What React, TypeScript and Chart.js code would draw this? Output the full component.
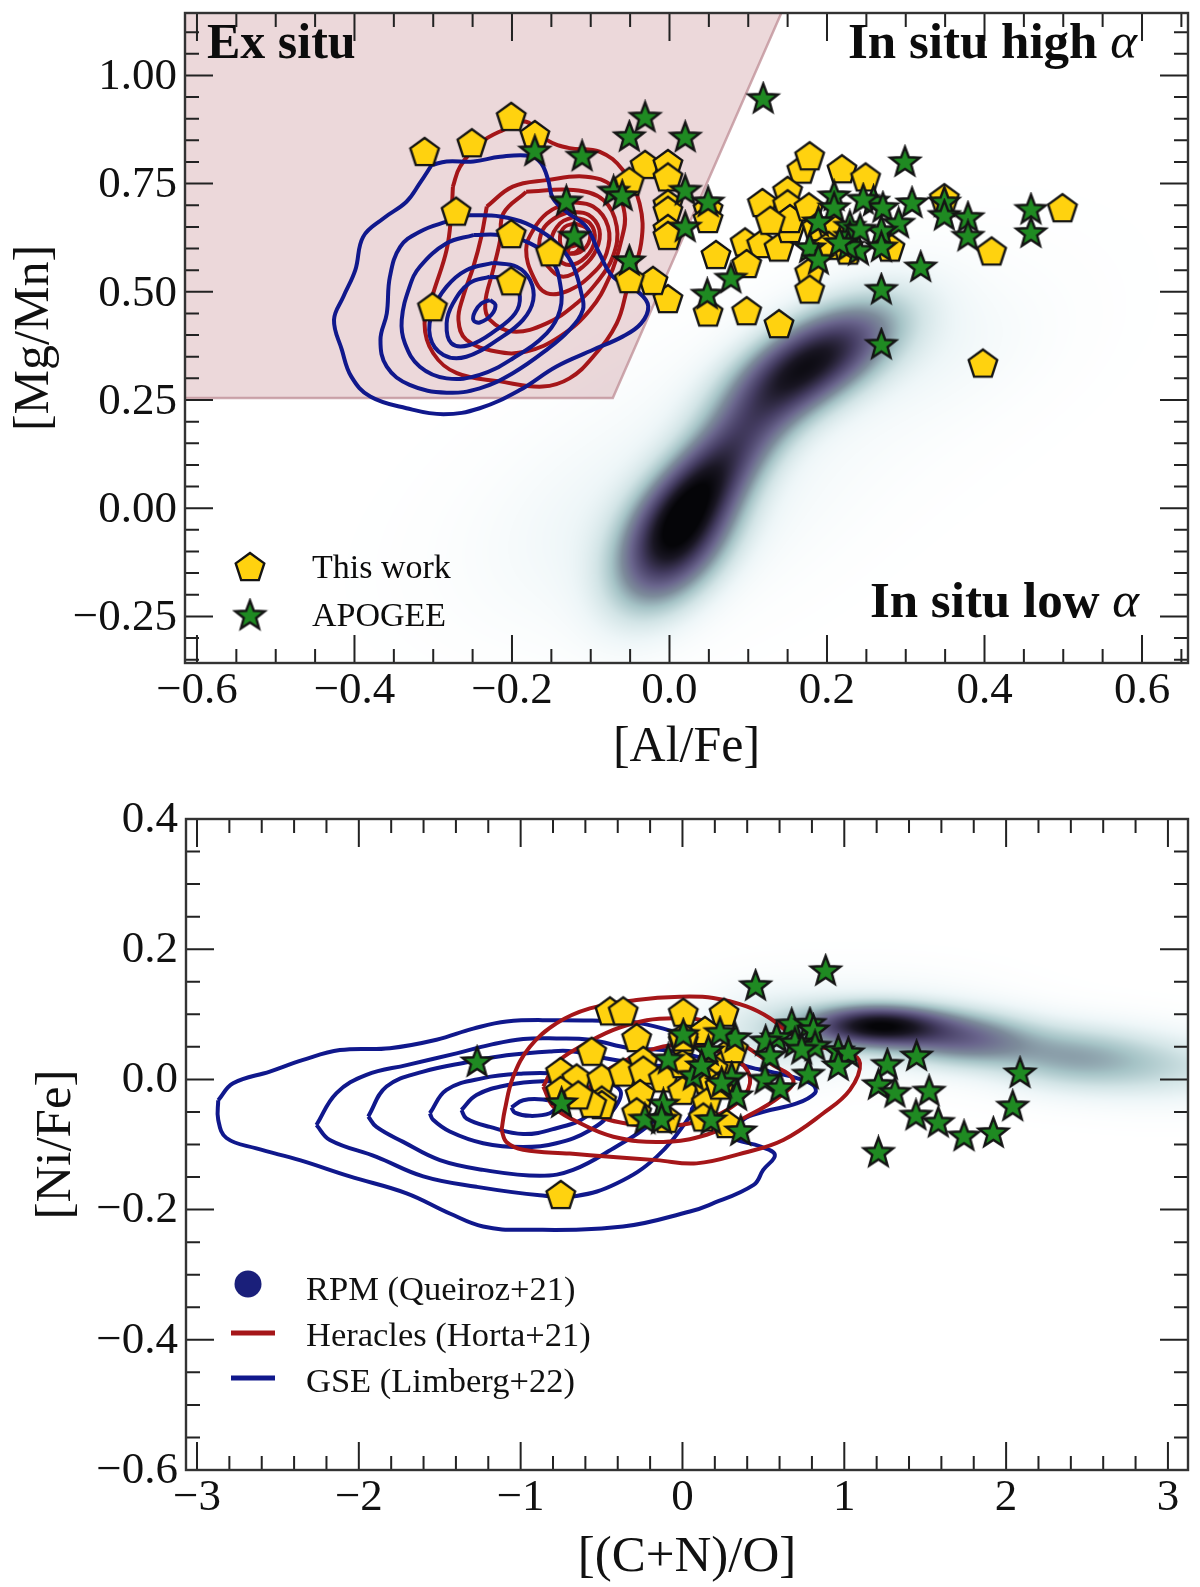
import React, { useEffect, useRef } from "react";
import { Chart, registerables } from "chart.js";

Chart.register(...registerables);

type P = [number, number];

// ---------- axis ranges and ticks ----------
const topXRange = [-0.6152, 0.6584];
const topYRange = [-0.3577, 1.1442];
const topXMajor = [-0.6, -0.4, -0.2, 0, 0.2, 0.4, 0.6];
const topXMinor = [-0.55, -0.5, -0.45, -0.35, -0.3, -0.25, -0.15, -0.1, -0.05, 0.05, 0.1, 0.15, 0.25, 0.3, 0.35, 0.45, 0.5, 0.55, 0.65];
const topYMajor = [-0.25, 0, 0.25, 0.5, 0.75, 1];
const topYMinor = [-0.35, -0.3, -0.2, -0.15, -0.1, -0.05, 0.05, 0.1, 0.15, 0.2, 0.3, 0.35, 0.4, 0.45, 0.55, 0.6, 0.65, 0.7, 0.8, 0.85, 0.9, 0.95, 1.05, 1.1];

const botXRange = [-3.068, 3.124];
const botYRange = [-0.6, 0.4];
const botXMajor = [-3, -2, -1, 0, 1, 2, 3];
const botXMinor = [-2.8, -2.6, -2.4, -2.2, -1.8, -1.6, -1.4, -1.2, -0.8, -0.6, -0.4, -0.2, 0.2, 0.4, 0.6, 0.8, 1.2, 1.4, 1.6, 1.8, 2.2, 2.4, 2.6, 2.8];
const botYMajor = [-0.6, -0.4, -0.2, 0, 0.2, 0.4];
const botYMinor = [-0.55, -0.5, -0.45, -0.35, -0.3, -0.25, -0.15, -0.1, -0.05, 0.05, 0.1, 0.15, 0.25, 0.3, 0.35];

// ---------- top panel: stars and pentagons ----------
const topPentagons: P[] = [
  [-0.311, 0.821], [-0.251, 0.841], [-0.201, 0.902], [-0.171, 0.86], [-0.271, 0.683], [-0.201, 0.631], [-0.151, 0.589], [-0.201, 0.522], [-0.301, 0.462],
  [-0.031, 0.791], [-0.002, 0.793], [-0.002, 0.762], [-0.051, 0.752], [-0.002, 0.7], [-0.002, 0.685], [-0.002, 0.643], [-0.002, 0.627],
  [0.049, 0.689], [0.049, 0.666], [0.059, 0.583], [0.096, 0.612], [0.117, 0.608], [0.139, 0.6], [0.098, 0.562], [-0.002, 0.481], [-0.021, 0.523], [-0.051, 0.527],
  [0.049, 0.45], [0.098, 0.453], [0.139, 0.423], [0.178, 0.543], [0.178, 0.503], [0.168, 0.78], [0.178, 0.811], [0.219, 0.781], [0.249, 0.762],
  [0.15, 0.731], [0.118, 0.703], [0.15, 0.7], [0.153, 0.643], [0.153, 0.666], [0.128, 0.662], [0.177, 0.693], [0.187, 0.647], [0.206, 0.647], [0.202, 0.604],
  [0.227, 0.593], [0.28, 0.6], [0.349, 0.714], [0.409, 0.591], [0.499, 0.691], [0.398, 0.332],
];
const topStars: P[] = [
  [0.119, 0.945], [-0.031, 0.902], [-0.051, 0.857], [0.02, 0.856], [0.299, 0.799], [0.02, 0.733], [0.049, 0.706], [-0.071, 0.731], [-0.06, 0.72],
  [0.209, 0.72], [0.209, 0.693], [0.259, 0.708], [0.271, 0.693], [0.308, 0.704], [0.349, 0.706], [0.349, 0.675], [0.379, 0.67], [0.379, 0.627],
  [0.459, 0.689], [0.459, 0.635], [0.291, 0.657], [0.269, 0.639], [0.229, 0.65], [0.229, 0.627], [0.189, 0.66], [0.02, 0.648], [0.178, 0.6], [0.189, 0.573],
  [0.24, 0.594], [0.227, 0.604], [0.269, 0.602], [0.319, 0.556], [-0.051, 0.57], [0.078, 0.53], [0.048, 0.493], [0.269, 0.504], [0.269, 0.377],
  [0.242, 0.643], [0.216, 0.612], [0.246, 0.712], [-0.171, 0.824], [-0.111, 0.812], [-0.131, 0.708], [-0.121, 0.627],
];

// ---------- top panel: region edge ----------
const exSituEdge: P[] = [[-0.6152, 0.2545], [-0.072, 0.2545], [0.142, 1.1442]];

// ---------- top panel: contours ----------
const topBlue1: P[] = [[-0.302, 0.793], [-0.283, 0.801], [-0.249, 0.801], [-0.215, 0.812], [-0.177, 0.814], [-0.163, 0.797], [-0.154, 0.758], [-0.148, 0.716], [-0.131, 0.685], [-0.106, 0.651], [-0.089, 0.589], [-0.072, 0.535], [-0.038, 0.497], [-0.027, 0.466], [-0.036, 0.427], [-0.059, 0.397], [-0.097, 0.366], [-0.144, 0.327], [-0.19, 0.273], [-0.241, 0.231], [-0.287, 0.217], [-0.334, 0.231], [-0.38, 0.258], [-0.404, 0.304], [-0.416, 0.366], [-0.426, 0.435], [-0.414, 0.489], [-0.399, 0.55], [-0.389, 0.627], [-0.363, 0.67], [-0.334, 0.708], [-0.317, 0.751]];
const topBlue2: P[] = [[-0.254, 0.677], [-0.215, 0.674], [-0.182, 0.658], [-0.148, 0.62], [-0.124, 0.566], [-0.112, 0.497], [-0.11, 0.458], [-0.127, 0.412], [-0.156, 0.366], [-0.199, 0.312], [-0.241, 0.277], [-0.283, 0.267], [-0.33, 0.285], [-0.359, 0.327], [-0.367, 0.389], [-0.359, 0.45], [-0.355, 0.535], [-0.342, 0.604], [-0.317, 0.639], [-0.283, 0.662]];
const topBlue3: P[] = [[-0.249, 0.631], [-0.215, 0.631], [-0.177, 0.612], [-0.15, 0.574], [-0.139, 0.52], [-0.139, 0.458], [-0.156, 0.404], [-0.199, 0.346], [-0.241, 0.308], [-0.283, 0.3], [-0.317, 0.327], [-0.336, 0.381], [-0.34, 0.435], [-0.33, 0.512], [-0.317, 0.558], [-0.283, 0.612]];
const topBlue4: P[] = [[-0.224, 0.567], [-0.194, 0.558], [-0.177, 0.527], [-0.173, 0.481], [-0.186, 0.435], [-0.215, 0.393], [-0.258, 0.35], [-0.287, 0.354], [-0.304, 0.396], [-0.3, 0.458], [-0.283, 0.512], [-0.258, 0.55]];
const topBlue5: P[] = [[-0.228, 0.535], [-0.199, 0.527], [-0.19, 0.489], [-0.196, 0.45], [-0.22, 0.412], [-0.254, 0.377], [-0.277, 0.381], [-0.283, 0.427], [-0.275, 0.473], [-0.254, 0.52]];
const topBlue6: P[] = [[-0.228, 0.481], [-0.221, 0.47], [-0.226, 0.447], [-0.241, 0.429], [-0.249, 0.435], [-0.247, 0.454], [-0.239, 0.473]];
const topRed1: P[] = [[-0.275, 0.743], [-0.266, 0.789], [-0.241, 0.843], [-0.211, 0.874], [-0.182, 0.893], [-0.156, 0.851], [-0.127, 0.832], [-0.089, 0.824], [-0.059, 0.781], [-0.038, 0.704], [-0.036, 0.612], [-0.053, 0.512], [-0.067, 0.427], [-0.097, 0.35], [-0.127, 0.3], [-0.161, 0.281], [-0.215, 0.293], [-0.27, 0.312], [-0.3, 0.358], [-0.311, 0.427], [-0.3, 0.497], [-0.283, 0.597], [-0.277, 0.681]];
const topRed2: P[] = [[-0.232, 0.697], [-0.239, 0.627], [-0.249, 0.558], [-0.262, 0.489], [-0.268, 0.435], [-0.258, 0.389], [-0.22, 0.362], [-0.182, 0.362], [-0.139, 0.397], [-0.101, 0.458], [-0.076, 0.535], [-0.061, 0.62], [-0.057, 0.681], [-0.072, 0.743], [-0.106, 0.766], [-0.156, 0.758], [-0.199, 0.743]];
const topRed3: P[] = [[-0.182, 0.731], [-0.122, 0.735], [-0.084, 0.712], [-0.067, 0.651], [-0.072, 0.581], [-0.093, 0.52], [-0.118, 0.473], [-0.156, 0.427], [-0.199, 0.408], [-0.228, 0.435], [-0.234, 0.473], [-0.224, 0.55], [-0.215, 0.62], [-0.211, 0.681]];
const topRed4: P[] = [[-0.129, 0.708], [-0.097, 0.697], [-0.078, 0.651], [-0.08, 0.589], [-0.097, 0.543], [-0.127, 0.504], [-0.156, 0.497], [-0.173, 0.535], [-0.182, 0.597], [-0.173, 0.643], [-0.156, 0.681]];
const topRed5: P[] = [[-0.127, 0.685], [-0.103, 0.678], [-0.089, 0.643], [-0.093, 0.597], [-0.11, 0.558], [-0.135, 0.535], [-0.154, 0.558], [-0.165, 0.597], [-0.161, 0.643], [-0.146, 0.67]];
const topRed6: P[] = [[-0.122, 0.673], [-0.101, 0.658], [-0.095, 0.62], [-0.106, 0.581], [-0.127, 0.562], [-0.144, 0.581], [-0.15, 0.62], [-0.139, 0.658]];
const topRed7: P[] = [[-0.12, 0.658], [-0.103, 0.643], [-0.103, 0.612], [-0.118, 0.589], [-0.135, 0.597], [-0.139, 0.627], [-0.133, 0.65]];
const topRed8: P[] = [[-0.127, 0.604], [-0.114, 0.608], [-0.118, 0.593], [-0.129, 0.59]];

// ---------- top panel: density blobs (x, y, sx, sy, rho, weight) ----------
const topDensity = [
  [0.008, -0.07, 0.05, 0.105, 0.45, 0.82],
  [0.182, 0.342, 0.07, 0.09, 0.6, 0.8],
  [0.08, 0.14, 0.06, 0.11, 0.7, 0.45],
  [0.04, 0.04, 0.045, 0.08, 0.6, 0.18],
  [0.12, 0.2, 0.2, 0.22, 0.6, 0.05],
  [0.3, 0.38, 0.1, 0.1, 0.2, 0.05],
  [-0.03, -0.05, 0.13, 0.15, 0.3, 0.07],
];

// ---------- bottom panel: stars and pentagons ----------
const botPentagons: P[] = [
  [-0.448, 0.103], [-0.366, 0.103], [0.005, 0.101], [0.257, 0.101], [-0.283, 0.062], [0.139, 0.073], [0.005, 0.058], [-0.561, 0.041], [-0.242, 0.027],
  [-0.753, 0.01], [-0.654, 0.0], [-0.499, 0.0], [-0.366, 0.009], [-0.242, 0.012], [-0.118, 0.0], [0.0, 0.022], [0.273, 0.025], [0.19, 0.015],
  [-0.499, -0.034], [-0.499, -0.041], [-0.561, -0.039], [-0.753, -0.019], [-0.644, -0.026], [-0.262, -0.024], [-0.283, -0.052], [-0.098, -0.062],
  [0.0, -0.019], [0.149, -0.003], [0.149, -0.037], [0.129, -0.06], [0.273, -0.07], [0.232, -0.011], [0.005, 0.063], [0.314, 0.045], [-0.752, -0.179],
];
const botStars: P[] = [
  [0.452, 0.143], [0.885, 0.166], [0.675, 0.084], [0.788, 0.085], [0.809, 0.075], [0.582, 0.063], [0.514, 0.058], [0.695, 0.055], [0.819, 0.05], [0.737, 0.045],
  [0.541, 0.035], [0.963, 0.043], [1.025, 0.04], [0.963, 0.02], [0.778, 0.007], [1.447, 0.035], [1.266, 0.022], [0.51, -0.001], [0.603, -0.014], [2.086, 0.009],
  [1.211, -0.009], [1.313, -0.021], [1.524, -0.019], [2.041, -0.042], [1.443, -0.056], [1.581, -0.067], [1.74, -0.088], [1.921, -0.083], [1.211, -0.113],
  [0.325, 0.063], [0.232, 0.071], [0.005, 0.068], [0.16, 0.043], [-0.088, 0.03], [0.067, 0.005], [0.304, 0.002], [0.335, -0.026], [-0.118, -0.039], [-0.232, -0.062],
  [-0.129, -0.062], [0.176, -0.063], [0.36, -0.08], [-0.747, -0.037], [0.118, 0.02], [0.242, -0.006], [-1.269, 0.026],
];

// ---------- bottom panel: contours ----------
const botBlue1: P[] = [[-2.869, -0.032], [-2.777, -0.006], [-2.55, 0.012], [-2.344, 0.03], [-2.117, 0.045], [-1.808, 0.048], [-1.52, 0.061], [-1.293, 0.078], [-1.087, 0.089], [-0.778, 0.091], [-0.469, 0.09], [-0.324, 0.089], [-0.118, 0.078], [0.088, 0.06], [0.211, 0.045], [0.376, 0.022], [0.541, 0.012], [0.706, 0.002], [0.809, -0.009], [0.819, -0.021], [0.706, -0.037], [0.5, -0.05], [0.376, -0.062], [0.314, -0.088], [0.479, -0.103], [0.571, -0.116], [0.499, -0.139], [0.44, -0.162], [0.164, -0.193], [0.046, -0.203], [-0.367, -0.226], [-0.984, -0.231], [-1.232, -0.226], [-1.438, -0.206], [-1.705, -0.175], [-2.056, -0.149], [-2.365, -0.124], [-2.633, -0.106], [-2.818, -0.09], [-2.869, -0.062]];
const botBlue2: P[] = [[-2.262, -0.07], [-2.138, -0.021], [-1.953, 0.007], [-1.705, 0.022], [-1.396, 0.04], [-1.19, 0.053], [-0.984, 0.062], [-0.779, 0.063], [-0.572, 0.061], [-0.325, 0.048], [-0.118, 0.045], [0.088, 0.035], [0.294, 0.02], [0.335, -0.006], [0.211, -0.021], [0.067, -0.042], [0.046, -0.057], [-0.16, -0.119], [-0.408, -0.16], [-0.655, -0.179], [-0.882, -0.178], [-1.273, -0.165], [-1.602, -0.149], [-1.891, -0.119], [-2.179, -0.093]];
const botBlue3: P[] = [[-1.942, -0.057], [-1.829, -0.011], [-1.602, 0.012], [-1.314, 0.027], [-1.087, 0.037], [-0.82, 0.043], [-0.676, 0.043], [-0.469, 0.032], [-0.221, 0.022], [-0.057, 0.017], [0.026, -0.006], [-0.077, -0.037], [-0.221, -0.073], [-0.408, -0.103], [-0.676, -0.139], [-0.882, -0.148], [-1.232, -0.139], [-1.499, -0.124], [-1.726, -0.096], [-1.891, -0.073]];
const botBlue4: P[] = [[-1.561, -0.052], [-1.458, -0.016], [-1.232, 0.002], [-0.984, 0.009], [-0.779, 0.009], [-0.572, 0.002], [-0.387, -0.016], [-0.428, -0.047], [-0.572, -0.078], [-0.779, -0.098], [-0.984, -0.104], [-1.232, -0.098], [-1.438, -0.08], [-1.541, -0.062]];
const botBlue5: P[] = [[-1.366, -0.047], [-1.273, -0.024], [-1.087, -0.009], [-0.861, -0.003], [-0.676, -0.006], [-0.511, -0.026], [-0.593, -0.057], [-0.779, -0.075], [-0.984, -0.084], [-1.19, -0.073], [-1.335, -0.06]];
const botBlue6: P[] = [[-1.057, -0.043], [-0.984, -0.032], [-0.861, -0.031], [-0.779, -0.039], [-0.82, -0.052], [-0.943, -0.056], [-1.036, -0.051]];
const botRed1: P[] = [[-1.118, -0.078], [-1.098, -0.047], [-1.046, 0.004], [-0.943, 0.05], [-0.779, 0.086], [-0.572, 0.109], [-0.284, 0.122], [-0.015, 0.127], [0.19, 0.125], [0.396, 0.112], [0.541, 0.094], [0.664, 0.071], [0.85, 0.05], [1.014, 0.043], [1.097, 0.025], [1.035, -0.016], [0.87, -0.052], [0.623, -0.093], [0.376, -0.113], [0.087, -0.129], [-0.16, -0.124], [-0.448, -0.119], [-0.696, -0.114], [-0.984, -0.108], [-1.088, -0.096]];
const botRed2: P[] = [[-0.86, -0.011], [-0.778, 0.025], [-0.633, 0.05], [-0.427, 0.076], [-0.221, 0.091], [-0.015, 0.094], [0.149, 0.089], [0.294, 0.066], [0.396, 0.05], [0.541, 0.025], [0.685, -0.001], [0.603, -0.026], [0.397, -0.057], [0.149, -0.085], [-0.118, -0.096], [-0.427, -0.088], [-0.675, -0.062], [-0.798, -0.042]];
const botRed3: P[] = [[-0.613, -0.032], [-0.53, 0.002], [-0.386, 0.025], [-0.16, 0.048], [0.046, 0.053], [0.252, 0.04], [0.376, 0.022], [0.417, -0.006], [0.335, -0.037], [0.129, -0.062], [-0.118, -0.072], [-0.366, -0.067], [-0.551, -0.052]];

// ---------- bottom panel: density blobs ----------
const botDensity = [
  [1.2, 0.083, 0.28, 0.021, 0.0, 0.82],
  [1.75, 0.062, 0.3, 0.028, 0.0, 0.42],
  [2.4, 0.035, 0.35, 0.034, 0.0, 0.3],
  [3.0, 0.018, 0.4, 0.036, 0.0, 0.17],
  [0.55, 0.07, 0.3, 0.045, 0.0, 0.14],
  [1.2, 0.085, 0.5, 0.045, 0.0, 0.12],
];

// ---------- colours ----------
const BLUE = "#10188c";
const RED = "#a51619";
const INK = "#222222";
const densityStops = [
  [0, 255, 255, 255], [0.08, 238, 246, 248], [0.18, 210, 228, 230], [0.3, 165, 195, 198],
  [0.42, 125, 140, 155], [0.55, 105, 100, 140], [0.7, 70, 62, 100], [0.88, 25, 22, 35], [1, 5, 5, 8],
];

const SERIF = "'Liberation Serif', 'Times New Roman', serif";

function polyMarker(kind: "pentagon" | "star", r: number): HTMLCanvasElement {
  const size = Math.ceil(r * 2 + 6);
  const c = document.createElement("canvas");
  c.width = size;
  c.height = size;
  const g = c.getContext("2d")!;
  g.translate(size / 2, size / 2);
  g.beginPath();
  if (kind === "pentagon") {
    for (let i = 0; i < 5; i++) {
      const a = -Math.PI / 2 + (i * 2 * Math.PI) / 5;
      g.lineTo(r * Math.cos(a), r * Math.sin(a));
    }
  } else {
    for (let i = 0; i < 10; i++) {
      const a = -Math.PI / 2 + (i * Math.PI) / 5;
      const q = i % 2 === 0 ? r : r * 0.42;
      g.lineTo(q * Math.cos(a), q * Math.sin(a));
    }
  }
  g.closePath();
  g.fillStyle = kind === "pentagon" ? "#ffd20f" : "#1f8a22";
  g.fill();
  g.lineJoin = "miter";
  g.lineWidth = 2.4;
  g.strokeStyle = "#141414";
  g.stroke();
  return c;
}

function densityColor(t: number): number[] {
  const v = Math.min(1, Math.max(0, t));
  for (let i = 1; i < densityStops.length; i++) {
    const a = densityStops[i - 1];
    const b = densityStops[i];
    if (v <= b[0]) {
      const f = (v - a[0]) / (b[0] - a[0]);
      return [a[1] + (b[1] - a[1]) * f, a[2] + (b[2] - a[2]) * f, a[3] + (b[3] - a[3]) * f];
    }
  }
  return [5, 5, 8];
}

function drawDensity(chart: any, blobs: number[][]) {
  const { left, top, width, height } = chart.chartArea;
  const w = Math.round(width);
  const h = Math.round(height);
  const off = document.createElement("canvas");
  off.width = w;
  off.height = h;
  const g = off.getContext("2d")!;
  const img = g.createImageData(w, h);
  const sx = chart.scales.x;
  const sy = chart.scales.y;
  for (let j = 0; j < h; j++) {
    const vy = sy.getValueForPixel(top + j);
    for (let i = 0; i < w; i++) {
      const vx = sx.getValueForPixel(left + i);
      let d = 0;
      for (const b of blobs) {
        const zx = (vx - b[0]) / b[2];
        const zy = (vy - b[1]) / b[3];
        const r = b[4];
        d += b[5] * Math.exp(-(zx * zx - 2 * r * zx * zy + zy * zy) / (2 * (1 - r * r)));
      }
      const c = densityColor(d);
      const k = (j * w + i) * 4;
      img.data[k] = c[0];
      img.data[k + 1] = c[1];
      img.data[k + 2] = c[2];
      img.data[k + 3] = 255;
    }
  }
  g.putImageData(img, 0, 0);
  chart.ctx.drawImage(off, left, top);
}

function drawTicks(chart: any, xMajor: number[], xMinor: number[], yMajor: number[], yMinor: number[]) {
  const { ctx, chartArea: a, scales } = chart;
  const MAJOR = 28;
  const MINOR = 14;
  ctx.save();
  ctx.strokeStyle = INK;
  ctx.lineWidth = 2;
  ctx.beginPath();
  const xt = (list: number[], len: number) => {
    for (const v of list) {
      const p = scales.x.getPixelForValue(v);
      ctx.moveTo(p, a.bottom);
      ctx.lineTo(p, a.bottom - len);
      ctx.moveTo(p, a.top);
      ctx.lineTo(p, a.top + len);
    }
  };
  const yt = (list: number[], len: number) => {
    for (const v of list) {
      const p = scales.y.getPixelForValue(v);
      ctx.moveTo(a.left, p);
      ctx.lineTo(a.left + len, p);
      ctx.moveTo(a.right, p);
      ctx.lineTo(a.right - len, p);
    }
  };
  xt(xMajor, MAJOR);
  xt(xMinor, MINOR);
  yt(yMajor, MAJOR);
  yt(yMinor, MINOR);
  ctx.stroke();
  ctx.lineWidth = 2.4;
  ctx.strokeStyle = "#333333";
  ctx.strokeRect(a.left, a.top, a.right - a.left, a.bottom - a.top);
  ctx.restore();
}

function boldWithAlpha(ctx: CanvasRenderingContext2D, label: string, right: number, baseline: number) {
  ctx.font = `bold 51px ${SERIF}`;
  const w1 = ctx.measureText(label + " ").width;
  ctx.font = `italic 51px ${SERIF}`;
  const w2 = ctx.measureText("α").width;
  const start = right - w1 - w2;
  ctx.font = `bold 51px ${SERIF}`;
  ctx.fillText(label, start, baseline);
  ctx.font = `italic 51px ${SERIF}`;
  ctx.fillText("α", start + w1, baseline);
}

const contour = (pts: P[], color: string) => ({
  data: [...pts, pts[0]].map(([x, y]) => ({ x, y })),
  showLine: true,
  borderColor: color,
  borderWidth: 4,
  tension: 0.4,
  pointRadius: 0,
  fill: false,
  borderJoinStyle: "round" as const,
});

const markers = (pts: P[], style: HTMLCanvasElement) => ({
  data: pts.map(([x, y]) => ({ x, y })),
  showLine: false,
  pointStyle: style,
  pointRadius: 15,
});

const fmtMinus = (s: string) => s.replace("-", "−");

function buildOptions(p: {
  xRange: number[]; yRange: number[]; xMajor: number[]; yMajor: number[];
  xFmt: (v: number) => string; yFmt: (v: number) => string;
  xTitle: string; yTitle: string; xTitlePad: number; yTitlePad: number;
  yWidth: number; xHeight: number; topPad: number; titleSize: number; yLabelOffset: number;
}) {
  const noPad = (s: any) => { s.paddingLeft = 0; s.paddingRight = 0; s.paddingTop = 0; s.paddingBottom = 0; };
  return {
    responsive: false,
    animation: false,
    devicePixelRatio: 1,
    layout: { autoPadding: false, padding: { left: 0, right: 12, top: p.topPad, bottom: 0 } },
    plugins: { legend: { display: false }, tooltip: { enabled: false } },
    scales: {
      x: {
        type: "linear",
        min: p.xRange[0],
        max: p.xRange[1],
        grid: { display: false, drawTicks: false },
        border: { display: false },
        afterBuildTicks: (s: any) => { s.ticks = p.xMajor.map((value) => ({ value })); },
        afterFit: (s: any) => { s.height = p.xHeight; noPad(s); },
        ticks: {
          autoSkip: false, maxRotation: 0, padding: 6, color: "#111111",
          font: { family: SERIF, size: 45, lineHeight: 1 },
          callback: (v: any) => p.xFmt(Number(v)),
        },
        title: {
          display: true, text: p.xTitle, color: "#111111",
          font: { family: SERIF, size: p.titleSize, lineHeight: 1 },
          padding: { top: 0, bottom: p.xTitlePad },
        },
      },
      y: {
        type: "linear",
        min: p.yRange[0],
        max: p.yRange[1],
        grid: { display: false, drawTicks: false },
        border: { display: false },
        afterBuildTicks: (s: any) => { s.ticks = p.yMajor.map((value) => ({ value })); },
        afterFit: (s: any) => { s.width = p.yWidth; noPad(s); },
        ticks: {
          autoSkip: false, maxRotation: 0, padding: 8, color: "#111111", labelOffset: p.yLabelOffset,
          font: { family: SERIF, size: 45, lineHeight: 1 },
          callback: (v: any) => p.yFmt(Number(v)),
        },
        title: {
          display: true, text: p.yTitle, color: "#111111",
          font: { family: SERIF, size: p.titleSize, lineHeight: 1 },
          padding: { top: p.yTitlePad, bottom: 0 },
        },
      },
    },
  };
}

export default function App() {
  const topRef = useRef<HTMLCanvasElement>(null);
  const botRef = useRef<HTMLCanvasElement>(null);

  useEffect(() => {
    const pent = polyMarker("pentagon", 15);
    const star = polyMarker("star", 15.5);

    const topChart = new Chart(topRef.current!, {
      type: "scatter",
      data: {
        datasets: [
          markers(topStars, star),
          markers(topPentagons, pent),
          ...[topBlue1, topBlue2, topBlue3, topBlue4, topBlue5, topBlue6].map((c) => contour(c, BLUE)),
          ...[topRed1, topRed2, topRed3, topRed4, topRed5, topRed6, topRed7, topRed8].map((c) => contour(c, RED)),
          {
            data: exSituEdge.map(([x, y]) => ({ x, y })),
            showLine: true,
            tension: 0,
            pointRadius: 0,
            borderColor: "rgba(190,140,148,0.75)",
            borderWidth: 2.5,
            backgroundColor: "rgba(160,60,72,0.2)",
            fill: "end",
          },
        ],
      },
      options: buildOptions({
        xRange: topXRange, yRange: topYRange, xMajor: topXMajor, yMajor: topYMajor,
        xFmt: (v) => fmtMinus(v.toFixed(1)), yFmt: (v) => fmtMinus(v.toFixed(2)),
        xTitle: "[Al/Fe]", yTitle: "[Mg/Mn]", xTitlePad: 7, yTitlePad: 10,
        yWidth: 185, xHeight: 117, topPad: 13, titleSize: 50, yLabelOffset: 2,
      }) as any,
      plugins: [{
        id: "topDecor",
        beforeDatasetsDraw: (chart: any) => drawDensity(chart, topDensity),
        afterDatasetsDraw: (chart: any) => {
          drawTicks(chart, topXMajor, topXMinor, topYMajor, topYMinor);
          const ctx = chart.ctx as CanvasRenderingContext2D;
          ctx.save();
          ctx.fillStyle = "#0c0c0c";
          ctx.textBaseline = "alphabetic";
          ctx.font = `bold 50px ${SERIF}`;
          ctx.fillText("Ex situ", 207, 58);
          boldWithAlpha(ctx, "In situ high", 1137, 58);
          boldWithAlpha(ctx, "In situ low", 1139, 617);
          ctx.font = `34px ${SERIF}`;
          ctx.fillText("This work", 312, 578);
          ctx.fillText("APOGEE", 312, 626);
          ctx.drawImage(pent, 250 - pent.width / 2, 568 - pent.height / 2);
          ctx.drawImage(star, 250 - star.width / 2, 616 - star.height / 2);
          ctx.restore();
        },
      }],
    } as any);

    const botChart = new Chart(botRef.current!, {
      type: "scatter",
      data: {
        datasets: [
          markers(botStars, star),
          markers(botPentagons, pent),
          ...[botRed1, botRed2, botRed3].map((c) => contour(c, RED)),
          ...[botBlue1, botBlue2, botBlue3, botBlue4, botBlue5, botBlue6].map((c) => contour(c, BLUE)),
        ],
      },
      options: buildOptions({
        xRange: botXRange, yRange: botYRange, xMajor: botXMajor, yMajor: botYMajor,
        xFmt: (v) => fmtMinus(v.toFixed(0)), yFmt: (v) => fmtMinus(v.toFixed(1)),
        xTitle: "[(C+N)/O]", yTitle: "[Ni/Fe]", xTitlePad: 4, yTitlePad: 31,
        yWidth: 186, xHeight: 117, topPad: 39, titleSize: 51, yLabelOffset: 1,
      }) as any,
      plugins: [{
        id: "botDecor",
        beforeDatasetsDraw: (chart: any) => drawDensity(chart, botDensity),
        afterDatasetsDraw: (chart: any) => {
          drawTicks(chart, botXMajor, botXMinor, botYMajor, botYMinor);
          const ctx = chart.ctx as CanvasRenderingContext2D;
          const off = 780;
          ctx.save();
          ctx.fillStyle = "#111111";
          ctx.font = `34.5px ${SERIF}`;
          ctx.fillText("RPM (Queiroz+21)", 306, 1300 - off);
          ctx.fillText("Heracles (Horta+21)", 306, 1346 - off);
          ctx.fillText("GSE (Limberg+22)", 306, 1392 - off);
          ctx.fillStyle = "#1a1f7a";
          ctx.beginPath();
          ctx.arc(248, 1284 - off, 13.5, 0, Math.PI * 2);
          ctx.fill();
          ctx.lineWidth = 5;
          ctx.strokeStyle = RED;
          ctx.beginPath();
          ctx.moveTo(231, 1333 - off);
          ctx.lineTo(275, 1333 - off);
          ctx.stroke();
          ctx.strokeStyle = BLUE;
          ctx.beginPath();
          ctx.moveTo(231, 1378 - off);
          ctx.lineTo(275, 1378 - off);
          ctx.stroke();
          ctx.restore();
        },
      }],
    } as any);

    return () => {
      topChart.destroy();
      botChart.destroy();
    };
  }, []);

  const soft: React.CSSProperties = { position: "absolute", left: 0, filter: "blur(0.4px)" };
  return (
    <div style={{ position: "absolute", left: 0, top: 0, width: 1200, height: 1587, background: "#fff", overflow: "hidden" }}>
      <canvas ref={topRef} width={1200} height={780} style={{ ...soft, top: 0, width: 1200, height: 780 }} />
      <canvas ref={botRef} width={1200} height={807} style={{ ...soft, top: 780, width: 1200, height: 807 }} />
    </div>
  );
}
